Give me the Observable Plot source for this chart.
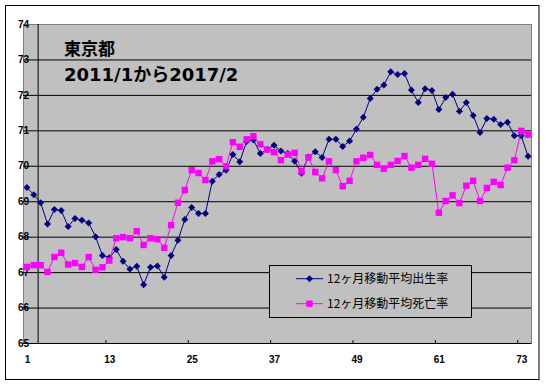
<!DOCTYPE html>
<html>
<head>
<meta charset="utf-8">
<script src="https://cdn.jsdelivr.net/npm/d3@7"></script>
<script src="https://cdn.jsdelivr.net/npm/@observablehq/plot@0.6"></script>
<style>
  html, body { margin: 0; padding: 0; background: #fff; }
  #chart { width: 545px; height: 385px; }
  #chart svg { display: block; }
</style>
</head>
<body>
<div id="chart"></div>
<script>
// ---- data ----
const months = d3.range(1, 75); // category index 1..74 (2011/1 .. 2017/2)
const birthRate = [
  69.40, 69.20, 68.97, 68.37, 68.78, 68.75, 68.30, 68.53, 68.48, 68.40,
  68.01, 67.48, 67.42, 67.65, 67.32, 67.10, 67.18, 66.66, 67.15, 67.19,
  66.87, 67.48, 67.91, 68.50, 68.84, 68.67, 68.67, 69.58, 69.77, 69.89,
  70.33, 70.13, 70.70, 70.74, 70.36, 70.47, 70.59, 70.43, 70.36, 70.14,
  69.80, 70.26, 70.41, 70.25, 70.76, 70.76, 70.56, 70.71, 71.05, 71.38,
  71.91, 72.17, 72.29, 72.67, 72.59, 72.62, 72.15, 71.80, 72.19, 72.14,
  71.60, 71.94, 72.03, 71.55, 71.80, 71.43, 70.95, 71.35, 71.33, 71.18,
  71.24, 70.86, 70.86, 70.28
];
const deathRate = [
  67.16, 67.21, 67.21, 67.02, 67.44, 67.56, 67.23, 67.27, 67.16, 67.44,
  67.08, 67.15, 67.34, 67.97, 68.00, 67.97, 68.17, 67.78, 67.97, 67.94,
  67.70, 68.34, 68.97, 69.33, 69.89, 69.81, 69.61, 70.14, 70.20, 70.00,
  70.68, 70.55, 70.76, 70.85, 70.62, 70.47, 70.40, 70.17, 70.33, 70.38,
  69.86, 70.25, 69.84, 69.66, 70.14, 69.89, 69.44, 69.59, 70.14, 70.24,
  70.32, 70.04, 69.93, 70.04, 70.15, 70.29, 69.96, 70.04, 70.21, 70.07,
  68.69, 69.02, 69.18, 68.96, 69.45, 69.59, 69.02, 69.39, 69.56, 69.47,
  69.96, 70.17, 71.00, 70.89
];
const yTicks = [65, 66, 67, 68, 69, 70, 71, 72, 73, 74];
const xTicks = [1, 13, 25, 37, 49, 61, 73];
const seriesNames = ["12ヶ月移動平均出生率", "12ヶ月移動平均死亡率"];
const titleLines = ["東京都", "2011/1から2017/2"];

// ---- styles ----
const BLUE = "#000080", PINK = "#ff00ff", GRAY = "#c0c0c0";

const diamondSym = { draw(ctx, size) { const h = Math.sqrt(size / Math.PI);
  ctx.moveTo(0, -h); ctx.lineTo(h, 0); ctx.lineTo(0, h); ctx.lineTo(-h, 0); ctx.closePath(); } };
const squareSym = { draw(ctx, size) { const h = Math.sqrt(size / Math.PI);
  ctx.rect(-h, -h, 2 * h, 2 * h); } };

const birth = months.map((m, i) => ({m, v: birthRate[i]}));
const death = months.map((m, i) => ({m, v: deathRate[i]}));

const chart = Plot.plot({
  width: 545,
  height: 385,
  marginLeft: 23,
  marginRight: 14,
  marginTop: 24,
  marginBottom: 42,
  style: { background: "#fff", overflow: "visible" },
  x: { domain: [0.5, 74.5], axis: null },
  y: { domain: [65, 74], axis: null },
  marks: [
    Plot.frame({ fill: GRAY, stroke: "#808080" }),
    Plot.ruleY(yTicks.filter(d => d < 74), { stroke: "#000", strokeWidth: 1 }),
    Plot.ruleX([2.63], { stroke: "#000", strokeWidth: 1 }),
    Plot.ruleX(xTicks.filter(d => d > 1), { x: d => d - 0.5, y1: 65, y2: 65.08, stroke: "#000" }),
    Plot.text(yTicks, { y: d => d, text: d => String(d), frameAnchor: "left", dx: 5.5,
      textAnchor: "end", fontSize: 10, fontWeight: "bold", fontFamily: "Liberation Sans, Arial, sans-serif", fill: "#000" }),
    Plot.text(xTicks, { x: d => d, text: d => String(d), frameAnchor: "bottom", dy: 16, dx: 0.5,
      lineAnchor: "middle", fontSize: 10, fontWeight: "bold", fontFamily: "Liberation Sans, Arial, sans-serif", fill: "#000" }),
    Plot.line(birth, { x: "m", y: "v", stroke: BLUE, strokeWidth: 1 }),
    Plot.dot(birth, { x: "m", y: "v", r: 3.5, symbol: diamondSym, fill: BLUE, stroke: "none" }),
    Plot.line(death, { x: "m", y: "v", stroke: PINK, strokeWidth: 1 }),
    Plot.dot(death, { x: "m", y: "v", r: 3.2, symbol: squareSym, fill: PINK, stroke: "none" })
  ]
});

document.getElementById("chart").appendChild(chart);
const svg = d3.select(chart);

// outer chart border
svg.append("rect").attr("x", 5.5).attr("y", 5.5).attr("width", 533.5).attr("height", 374)
  .attr("fill", "none").attr("stroke", "#000").attr("stroke-width", 1);

// title
const tg = svg.append("g").attr("text-anchor", "start");
tg.append("text").attr("x", 64).attr("y", 54.5)
  .attr("font-family", "'Noto Sans CJK JP', sans-serif").attr("font-weight", "bold")
  .attr("font-size", 17).attr("fill", "#000").text(titleLines[0]);
tg.append("text").attr("x", 64).attr("y", 81)
  .attr("font-family", "'DejaVu Sans', 'Noto Sans CJK JP', sans-serif").attr("font-weight", "bold")
  .attr("font-size", 18).attr("fill", "#000").text(titleLines[1]);

// legend
const lg = svg.append("g").attr("text-anchor", "start");
lg.append("rect").attr("x", 269.5).attr("y", 265.5).attr("width", 202).attr("height", 52)
  .attr("fill", GRAY).attr("stroke", "#000");
const rows = [
  { name: seriesNames[0], color: BLUE, y: 278.7, sym: "d" },
  { name: seriesNames[1], color: PINK, y: 303.7, sym: "s" }
];
rows.forEach(r => {
  lg.append("line").attr("x1", 296).attr("x2", 323).attr("y1", r.y).attr("y2", r.y)
    .attr("stroke", r.color).attr("stroke-width", 1);
  if (r.sym === "d") {
    lg.append("path").attr("d", `M309.5,${r.y - 3.5}L313,${r.y}L309.5,${r.y + 3.5}L306,${r.y}Z`).attr("fill", r.color);
  } else {
    lg.append("rect").attr("x", 306.3).attr("y", r.y - 3.2).attr("width", 6.4).attr("height", 6.4).attr("fill", r.color);
  }
  lg.append("text").attr("x", 327).attr("y", r.y).attr("dy", "0.35em")
    .attr("font-family", "'Noto Sans CJK JP', sans-serif").attr("font-size", 12)
    .attr("fill", "#000").text(r.name);
});
</script>
</body>
</html>
